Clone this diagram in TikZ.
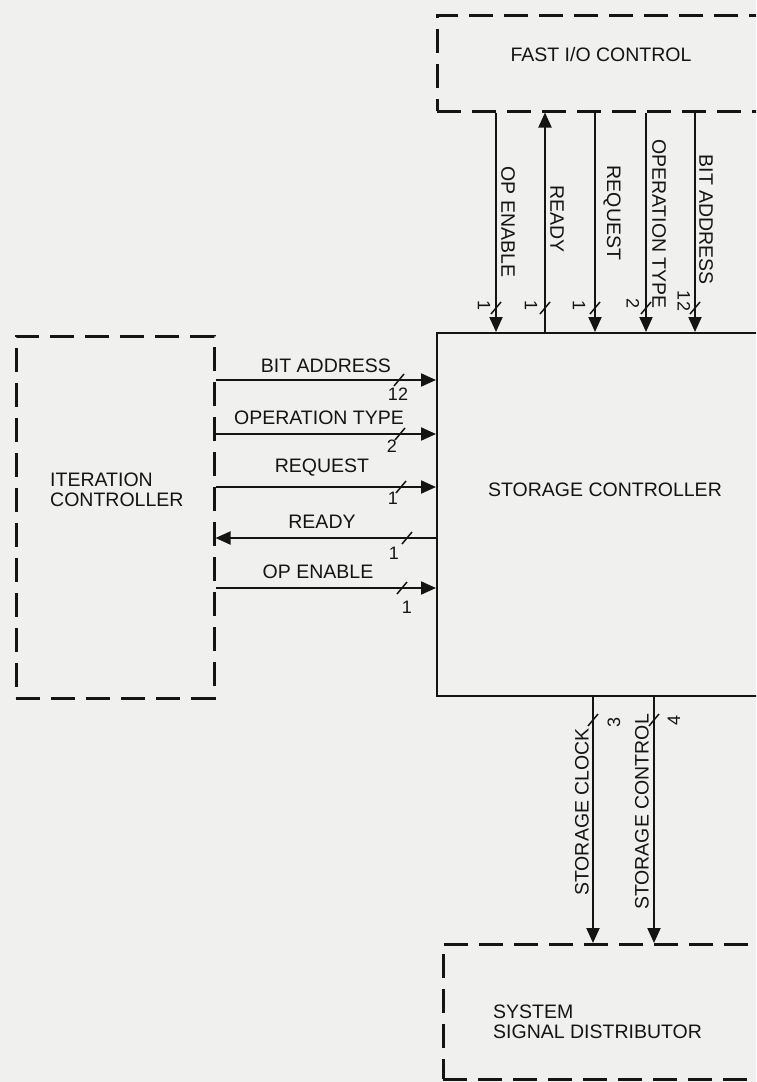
\documentclass[tikz,border=0pt]{standalone}
\usepackage{fontspec}
\setmainfont{Liberation Sans}
\usetikzlibrary{arrows.meta}
\definecolor{paper}{HTML}{F0F0EE}
\definecolor{ink}{HTML}{141414}
\begin{document}
\begin{tikzpicture}[x=1pt,y=1pt,
  dashbox/.style={draw=ink, line width=2.5pt, dash pattern=on 24pt off 11pt, inner sep=0pt, anchor=north west},
  solidbox/.style={draw=ink, line width=2.3pt, inner sep=0pt, anchor=north west},
  lbl/.style={font=\fontsize{19.5}{20}\selectfont, text=ink, inner sep=0pt},
  num/.style={font=\fontsize{18}{20}\selectfont, text=ink, inner sep=0pt},
  sig/.style={draw=ink, line width=2pt},
  tip/.style={-{Triangle[length=15pt,width=13pt]}},
  tickst/.style={draw=ink, line width=1.5pt}]
\fill[paper] (0,0) rectangle (756,-1082);
\useasboundingbox (0,0) rectangle (756,-1082);
\clip (0,0) rectangle (756,-1082);
\newcommand\sigtick[2]{\draw[tickst] (#1-5,#2-6) -- (#1+5,#2+6);}

% boxes
\node[dashbox, minimum width=400pt, minimum height=96pt] (fio) at (436,-14) {};
\node[solidbox, minimum width=400pt, minimum height=363pt] (sc) at (436,-332) {};
\node[dashbox, minimum width=198pt, minimum height=362pt] (ic) at (15,-335) {};
\node[dashbox, minimum width=400pt, minimum height=135pt] (ssd) at (442,-943) {};

% box texts
\node[lbl] (fiot) at (601,-55) {FAST I/O CONTROL};
\node[lbl] (sct) at (605,-490) {STORAGE CONTROLLER};
\node[lbl, align=left, anchor=west] (ict) at (50,-490) {ITERATION\\CONTROLLER};
\node[lbl, align=left, anchor=west] (ssdt) at (493,-1022) {SYSTEM\\SIGNAL DISTRIBUTOR};

% top connectors
\coordinate (tx1) at (496,0);
\coordinate (tx2) at (545,0);
\coordinate (tx3) at (595,0);
\coordinate (tx4) at (646,0);
\coordinate (tx5) at (695,0);
\draw[sig,tip] (fio.south -| tx1) -- (sc.north -| tx1);
\draw[sig,tip] (sc.north -| tx2) -- (fio.south -| tx2);
\draw[sig,tip] (fio.south -| tx3) -- (sc.north -| tx3);
\draw[sig,tip] (fio.south -| tx4) -- (sc.north -| tx4);
\draw[sig,tip] (fio.south -| tx5) -- (sc.north -| tx5);
\node[lbl, rotate=-90] (t1) at (508,-222) {OP ENABLE};
\node[lbl, rotate=-90] (t2) at (557,-219) {READY};
\node[lbl, rotate=-90] (t3) at (612,-213) {REQUEST};
\node[lbl, rotate=-90] (t4) at (659,-224) {OPERATION TYPE};
\node[lbl, rotate=-90] (t5) at (706,-220) {BIT ADDRESS};
\sigtick{496}{-308}
\sigtick{545}{-308}
\sigtick{595}{-308}
\sigtick{646}{-308}
\sigtick{695}{-308}
\node[num, rotate=-90] (n1) at (484,-306) {1};
\node[num, rotate=-90] (n2) at (531,-306) {1};
\node[num, rotate=-90] (n3) at (579,-306) {1};
\node[num, rotate=-90] (n4) at (633,-304) {2};
\node[num, rotate=-90] (n5) at (684,-301) {12};

% left connectors
\coordinate (ly1) at (0,-380);
\coordinate (ly2) at (0,-434);
\coordinate (ly3) at (0,-487);
\coordinate (ly4) at (0,-538);
\coordinate (ly5) at (0,-588);
\draw[sig,tip] (ic.east |- ly1) -- (sc.west |- ly1);
\draw[sig,tip] (ic.east |- ly2) -- (sc.west |- ly2);
\draw[sig,tip] (ic.east |- ly3) -- (sc.west |- ly3);
\draw[sig,tip] (sc.west |- ly4) -- (ic.east |- ly4);
\draw[sig,tip] (ic.east |- ly5) -- (sc.west |- ly5);
\node[lbl] (l1) at (326,-366) {BIT ADDRESS};
\node[lbl] (l2) at (319,-418) {OPERATION TYPE};
\node[lbl] (l3) at (322,-468) {REQUEST};
\node[lbl] (l4) at (322,-522) {READY};
\node[lbl] (l5) at (318,-572) {OP ENABLE};
\sigtick{399}{-380}
\sigtick{400}{-434}
\sigtick{401}{-487}
\sigtick{407}{-538}
\sigtick{402}{-588}
\node[num] (m1) at (398,-394) {12};
\node[num] (m2) at (392,-446) {2};
\node[num] (m3) at (393,-498) {1};
\node[num] (m4) at (394,-553) {1};
\node[num] (m5) at (407,-607) {1};

% bottom connectors
\coordinate (bx1) at (593,0);
\coordinate (bx2) at (654,0);
\draw[sig,tip] (sc.south -| bx1) -- (ssd.north -| bx1);
\draw[sig,tip] (sc.south -| bx2) -- (ssd.north -| bx2);
\node[lbl, rotate=90] (b1) at (582,-812) {STORAGE CLOCK};
\node[lbl, rotate=90] (b2) at (642,-812) {STORAGE CONTROL};
\sigtick{593}{-720}
\sigtick{654}{-720}
\node[num, rotate=90] (k1) at (614,-722) {3};
\node[num, rotate=90] (k2) at (674,-720) {4};
\end{tikzpicture}
\end{document}
